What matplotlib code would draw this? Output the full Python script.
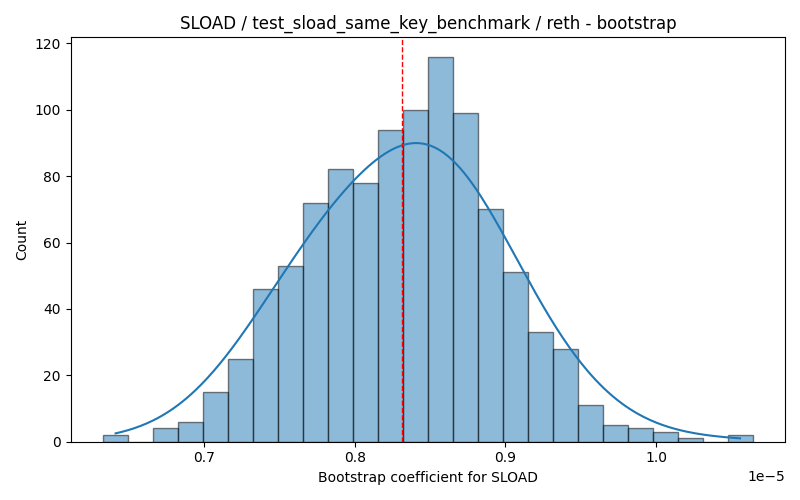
import numpy as np
import matplotlib
matplotlib.use("Agg")
import matplotlib.pyplot as plt

# histogram (x in units of 1e-5)
x_start = 0.633
x_end = 1.064
counts = [2, 0, 4, 6, 15, 25, 46, 53, 72, 82, 78, 94, 100, 116, 99, 70,
          51, 33, 28, 11, 5, 4, 3, 1, 0, 2]
mean_line = 0.8314

counts = np.array(counts, dtype=float)
edges = np.linspace(x_start, x_end, len(counts) + 1) * 1e-5
centers = (edges[:-1] + edges[1:]) / 2
width = edges[1] - edges[0]

# weighted gaussian kde (Scott's rule), scaled to counts like seaborn does
w = counts / counts.sum()
mu = np.sum(w * centers)
sd = np.sqrt(np.sum(w * (centers - mu) ** 2))
n_eff = counts.sum() ** 2 / np.sum(counts ** 2)
bw = sd * n_eff ** (-1 / 5)
grid = np.linspace(centers[0], centers[-1], 300)
dens = np.sum(w[None, :] * np.exp(-0.5 * ((grid[:, None] - centers[None, :]) / bw) ** 2), axis=1)
dens /= bw * np.sqrt(2 * np.pi)
curve = dens * counts.sum() * width

fig, ax = plt.subplots(figsize=(8, 5), dpi=100)
ax.bar(edges[:-1], counts, width=width, align='edge', color='#1f77b4', alpha=0.5,
       edgecolor='black', lw=1)
ax.plot(grid, curve, color='#1f77b4', lw=1.5)
ax.axvline(mean_line * 1e-5, color='red', linestyle='--', lw=1)
ax.set_title("SLOAD / test_sload_same_key_benchmark / reth - bootstrap")
ax.set_xlabel("Bootstrap coefficient for SLOAD")
ax.set_ylabel("Count")
plt.tight_layout()
plt.savefig("out.png")
